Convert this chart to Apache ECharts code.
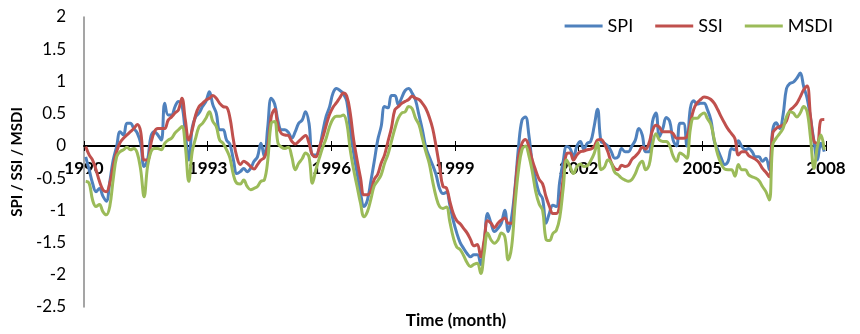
<!DOCTYPE html>
<html>
<head>
<meta charset="utf-8">
<script src="https://cdn.jsdelivr.net/npm/echarts@6/dist/echarts.min.js"></script>
<style>
	html, body { margin: 0; padding: 0; background: #fff; }
	#chart { width: 860px; height: 334px; }
</style>
</head>
<body>
<div id="chart"></div>
<script>
// monthly indices, Jan 1990 .. Dec 2007
const startYear = 1990
const tickYears = [1990, 1993, 1996, 1999, 2002, 2005, 2008]

const spi = [
	-0.17, -0.37, -0.58, -0.71, -0.66, -0.78, -0.86, -0.56, -0.22, -0.01, 0.22, 0.17,
	0.35, 0.35, 0.27, 0.2, 0.04, -0.32, -0.22, 0.15, 0.22, 0.17, 0.09, 0.66,
	0.48, 0.48, 0.61, 0.69, 0.63, 0.2, -0.22, 0.28, 0.45, 0.51, 0.61, 0.69,
	0.84, 0.64, 0.51, 0.25, 0.25, 0.09, 0.02, -0.22, -0.43, -0.4, -0.35, -0.4,
	-0.35, -0.24, -0.17, 0.04, -0.17, 0.3, 0.74, 0.65, 0.38, 0.25, 0.25, 0.21,
	0.12, 0.22, 0.35, 0.4, 0.53, 0.35, -0.14, -0.14, -0.04, 0.22, 0.46, 0.61,
	0.82, 0.89, 0.86, 0.81, 0.69, 0.25, -0.11, -0.42, -0.73, -0.94, -0.84, -0.55,
	-0.24, 0.09, 0.3, 0.61, 0.59, 0.78, 0.78, 0.64, 0.75, 0.86, 0.89, 0.82,
	0.71, 0.48, 0.25, -0.02, -0.17, -0.3, -0.45, -0.66, -0.74, -0.72, -0.92, -1.16,
	-1.35, -1.5, -1.59, -1.67, -1.72, -1.69, -1.69, -1.84, -1.51, -1.05, -1.2, -1.33,
	-1.28, -1.2, -1.0, -1.33, -1.1, -0.63, -0.01, 0.4, 0.45, 0.17, -0.27, -0.53,
	-0.73, -0.82, -1.2, -1.04, -0.92, -0.94, -0.55, -0.24, -0.01, -0.04, -0.17, 0.0,
	0.07, -0.05, 0.04, 0.07, 0.3, 0.57, 0.07, 0.04, 0.0, -0.09, -0.19, -0.17,
	-0.04, -0.09, -0.09, 0.0, 0.09, 0.27, 0.17, -0.09, -0.09, 0.38, 0.51, 0.14,
	0.27, 0.44, 0.38, 0.09, 0.0, 0.35, 0.35, 0.0, 0.58, 0.7, 0.65, 0.66,
	0.66, 0.56, 0.4, 0.07, -0.06, -0.19, -0.29, -0.24, -0.04, -0.06, 0.08, -0.01,
	-0.06, -0.04, -0.09, -0.17, -0.17, -0.24, -0.19, -0.37, 0.25, 0.36, 0.27, 0.48,
	0.89, 0.97, 0.99, 1.05, 1.13, 0.92, 0.74, 0.43, 0.07, -0.22, 0.04, -0.09,
]

const ssi = [
	-0.01, -0.14, -0.22, -0.37, -0.55, -0.68, -0.71, -0.58, -0.32, -0.09, 0.05, 0.12,
	0.17, 0.22, 0.27, 0.33, 0.22, -0.22, -0.22, 0.04, 0.22, 0.27, 0.27, 0.27,
	0.4, 0.45, 0.51, 0.56, 0.74, 0.4, 0.09, 0.25, 0.48, 0.61, 0.66, 0.71,
	0.74, 0.78, 0.74, 0.66, 0.61, 0.6, 0.43, 0.09, -0.17, -0.29, -0.24, -0.27,
	-0.32, -0.36, -0.29, -0.22, -0.18, -0.01, 0.45, 0.57, 0.3, 0.19, 0.17, 0.16,
	0.07, 0.03, 0.07, 0.12, 0.16, 0.04, -0.14, -0.17, -0.02, 0.13, 0.32, 0.49,
	0.6, 0.67, 0.75, 0.82, 0.77, 0.51, 0.09, -0.22, -0.5, -0.76, -0.76, -0.7,
	-0.52, -0.44, -0.27, -0.14, 0.07, 0.28, 0.56, 0.61, 0.66, 0.69, 0.72, 0.77,
	0.74, 0.72, 0.66, 0.58, 0.45, 0.27, -0.01, -0.32, -0.63, -0.65, -0.86, -1.05,
	-1.16, -1.21, -1.28, -1.35, -1.45, -1.55, -1.53, -1.72, -1.46, -1.16, -1.2, -1.27,
	-1.2, -1.15, -1.12, -1.2, -1.2, -0.68, -0.17, 0.04, 0.1, -0.01, -0.22, -0.38,
	-0.52, -0.59, -0.79, -0.94, -1.05, -1.05, -0.91, -0.5, -0.12, -0.11, -0.22, -0.14,
	-0.09, -0.08, -0.06, -0.05, -0.01, 0.09, 0.1, 0.03, -0.09, -0.26, -0.35, -0.37,
	-0.3, -0.32, -0.3, -0.21, -0.16, -0.1, -0.02, -0.05, 0.05, 0.24, 0.32, 0.29,
	0.22, 0.22, 0.22, 0.19, 0.12, 0.12, 0.12, 0.14, 0.35, 0.57, 0.67, 0.72,
	0.76, 0.75, 0.72, 0.66, 0.56, 0.45, 0.35, 0.26, 0.19, 0.11, -0.14, -0.09,
	-0.09, -0.15, -0.18, -0.21, -0.26, -0.35, -0.41, -0.48, 0.2, 0.27, 0.3, 0.32,
	0.39, 0.55, 0.6, 0.66, 0.76, 0.87, 0.93, 0.45, 0.07, 0.04, 0.4, 0.41,
]

const msdi = [
	-0.55, -0.58, -0.84, -0.94, -0.91, -1.02, -1.07, -0.94, -0.52, -0.17, -0.09, -0.06,
	-0.02, -0.06, -0.04, -0.11, -0.37, -0.79, -0.32, -0.09, -0.04, -0.04, -0.06, 0.04,
	0.09, 0.12, 0.2, 0.25, 0.3, -0.01, -0.55, -0.09, 0.12, 0.3, 0.35, 0.43,
	0.53, 0.38, 0.3, 0.09, 0.04, -0.06, -0.19, -0.45, -0.58, -0.59, -0.53, -0.63,
	-0.68, -0.66, -0.63, -0.55, -0.53, -0.22, 0.35, 0.38, 0.04, -0.02, -0.04, -0.02,
	-0.17, -0.37, -0.27, -0.2, -0.11, -0.17, -0.58, -0.37, -0.19, -0.02, 0.12, 0.3,
	0.42, 0.46, 0.46, 0.48, 0.35, -0.06, -0.37, -0.63, -0.89, -1.1, -1.02, -0.83,
	-0.62, -0.54, -0.45, -0.27, -0.13, 0.07, 0.27, 0.43, 0.51, 0.53, 0.61, 0.58,
	0.43, 0.33, 0.12, -0.09, -0.27, -0.55, -0.79, -0.94, -0.97, -0.95, -1.18, -1.42,
	-1.57, -1.61, -1.7, -1.81, -1.87, -1.84, -1.82, -1.98, -1.66, -1.35, -1.46, -1.51,
	-1.46, -1.35, -1.41, -1.77, -1.56, -0.89, -0.37, -0.06, 0.0, -0.15, -0.4, -0.71,
	-0.9, -1.0, -1.45, -1.47, -1.36, -1.31, -1.11, -0.66, -0.22, -0.32, -0.43, -0.32,
	-0.28, -0.32, -0.31, -0.23, -0.12, 0.05, -0.37, -0.33, -0.22, -0.27, -0.41, -0.45,
	-0.5, -0.53, -0.55, -0.52, -0.43, -0.3, -0.24, -0.37, -0.3, 0.02, 0.19, 0.09,
	0.07, 0.07, 0.0, -0.16, -0.24, -0.11, -0.14, -0.19, 0.26, 0.43, 0.43, 0.48,
	0.51, 0.42, 0.33, 0.09, -0.14, -0.28, -0.36, -0.37, -0.37, -0.47, -0.29, -0.37,
	-0.37, -0.45, -0.48, -0.5, -0.54, -0.63, -0.71, -0.84, 0.02, 0.12, 0.19, 0.27,
	0.45, 0.53, 0.51, 0.45, 0.51, 0.61, 0.53, 0.12, -0.35, -0.01, 0.17, -0.06,
]

const colors = { spi: '#4f81bd', ssi: '#c0504d', msdi: '#9bbb59', axis: '#878787', text: '#000' }
const font = 'Lato, "Open Sans", sans-serif'

const ymin = -2.5
const ymax = 2
const gridTop = 17
const gridBottom = 27
const gridHeight = 334 - gridTop - gridBottom
// lift the category line up to y = 0, labels included
const zeroOffset = -Math.round(gridHeight * (0 - ymin) / (ymax - ymin))

// place each month in the middle of its slot
const pts = arr => arr.map((v, i) => [i + 0.5, v])

const months = (tickYears[tickYears.length - 1] - startYear) * 12

const xbase = {
	type: 'value',
	min: 0,
	max: months,
	interval: 36,
	position: 'bottom',
	offset: zeroOffset,
	splitLine: { show: false },
}

const chart = echarts.init(document.getElementById('chart'), null, { renderer: 'canvas' })
chart.setOption({
	animation: false,
	backgroundColor: '#fff',
	textStyle: { fontFamily: font },
	title: {
		text: 'Time (month)',
		left: 456,
		top: 312,
		textAlign: 'center',
		padding: 0,
		textStyle: { fontFamily: font, fontSize: 17, fontWeight: 'bold', color: colors.text },
	},
	legend: {
		right: 22,
		top: 12,
		icon: 'rect',
		itemWidth: 38,
		itemHeight: 3,
		itemGap: 22,
		textStyle: { fontFamily: font, fontSize: 18, color: colors.text },
		data: ['SPI', 'SSI', 'MSDI'],
	},
	grid: {
		left: 84,
		right: 34,
		top: gridTop,
		bottom: gridBottom,
		outerBoundsMode: 'none',
	},
	xAxis: [{
		...xbase,
		axisLine: { show: true, onZero: false, lineStyle: { color: '#000', width: 2 } },
		axisTick: { show: true, length: 5, lineStyle: { color: '#000', width: 1 } },
		axisLabel: {
			showMinLabel: true,
			showMaxLabel: true,
			margin: 14,
			fontFamily: font,
			fontSize: 17,
			fontWeight: 'bold',
			color: colors.text,
			formatter: v => String(startYear + v / 12),
		},
	}, {
		// inner half of the cross ticks
		...xbase,
		axisLine: { show: false, onZero: false },
		axisTick: { show: true, inside: true, length: 5, lineStyle: { color: '#000', width: 1 } },
		axisLabel: { show: false },
	}],
	yAxis: {
		type: 'value',
		min: ymin,
		max: ymax,
		interval: 0.5,
		name: 'SPI / SSI / MSDI',
		nameLocation: 'middle',
		nameGap: 56,
		nameRotate: 90,
		nameTextStyle: { fontFamily: font, fontSize: 15, fontWeight: 'bold', color: colors.text },
		splitLine: { show: false },
		axisLine: { show: true, onZero: false, lineStyle: { color: colors.axis, width: 1.5 } },
		axisTick: { show: false },
		axisLabel: { margin: 18, fontFamily: font, fontSize: 17, color: colors.text },
	},
	series: [
		{ name: 'SPI', data: pts(spi), color: colors.spi },
		{ name: 'SSI', data: pts(ssi), color: colors.ssi },
		{ name: 'MSDI', data: pts(msdi), color: colors.msdi },
	].map(s => ({
		...s,
		type: 'line',
		xAxisIndex: 0,
		smooth: 0.4,
		symbol: 'none',
		lineStyle: { width: 3, color: s.color },
		itemStyle: { color: s.color },
	})),
})
</script>
</body>
</html>
